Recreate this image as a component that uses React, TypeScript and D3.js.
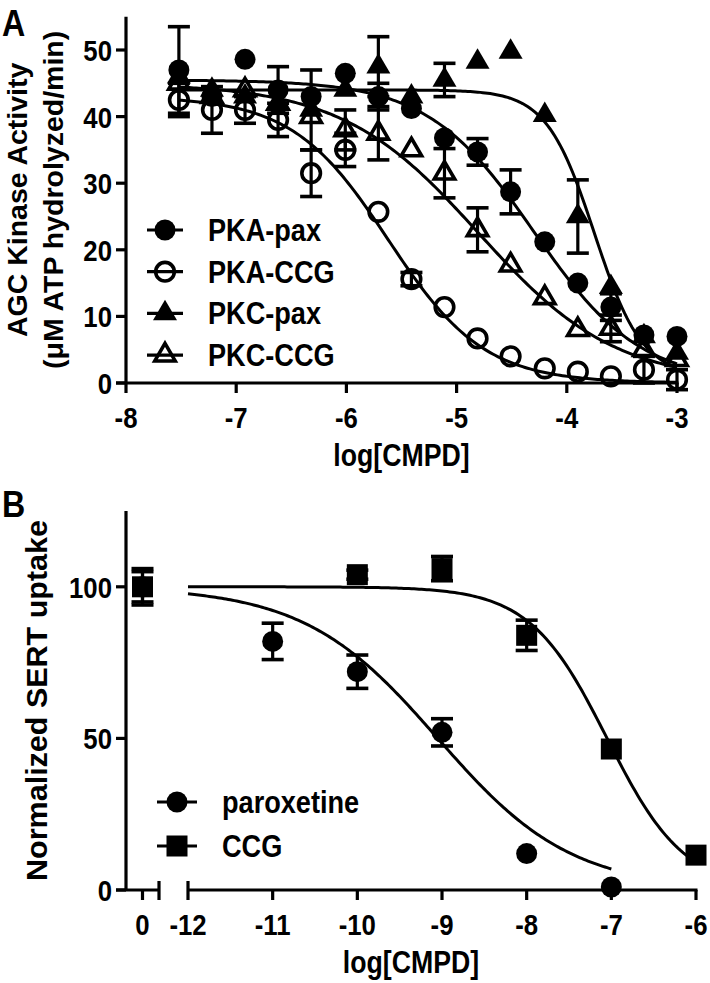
import React from 'react';
import * as d3 from 'd3';

const W = 710, H = 983;
const FONT = '"Liberation Sans", Arial, Helvetica, sans-serif';

// ---------- Panel A data ----------
const logConcA = [-7.52, -7.22, -6.92, -6.62, -6.32, -6.01, -5.71, -5.41, -5.11, -4.81, -4.51, -4.2, -3.9, -3.6, -3.3, -3.0];
const pkaPax = [47, 43, 48.6, 44, 43, 46.5, 43, 41.2, 36.8, 34.7, 28.7, 21.2, 15, 11.4, 7.2, 7];
const pkaPaxErr = [6.5, 0, 0, 3.5, 0, 0, 2, 0, 0, 2, 3.3, 0, 0, 2, 0, 0];
const pkaCcg = [42.5, 41, 41, 39.5, 31.5, 35, 25.7, 15.6, 11.4, 6.7, 4, 2.2, 1.7, 1, 2, 0.5];
const pkaCcgErr = [2.5, 3.5, 2, 2.5, 3.5, 2.5, 0, 1, 0, 0, 0, 0, 0, 0, 2, 1.5];
const pkcPax = [46, 44, 43, 42, 41, 44, 47.5, 43, 45.5, 48.2, 49.7, 40.2, 25, 14.4, 7, 4.5];
const pkcPaxErr = [0, 0, 0, 0, 6, 0, 4.5, 0, 2.5, 0, 0, 0, 5.5, 0, 0, 0];
const pkcCcg = [45, 43, 44, 42, 40, 38, 37.5, 35, 31.5, 23, 17.7, 12.8, 8, 8.2, 5, 3.5];
const pkcCcgErr = [0, 0, 0, 0, 0, 3, 4, 0, 3.7, 3.3, 0, 0, 0, 2, 0, 0];
// fit parameters: [top, bottom, logIC50, hill slope]
const fitPkaPax = [45.5, 0, -4.3, 0.9];
const fitPkaCcg = [43, 0, -5.62, 1.0];
const fitPkcPax = [44, 1, -3.75, 2.0];
const fitPkcCcg = [45, 0, -4.8, 0.7];
const xTicksA = [-8, -7, -6, -5, -4, -3];
const yTicksA = [0, 10, 20, 30, 40, 50];
const legendA = ['PKA-pax', 'PKA-CCG', 'PKC-pax', 'PKC-CCG'];

// ---------- Panel B data ----------
const parLog = [-11, -10, -9, -8, -7];
const parVal = [82, 72, 52, 12, 1];
const parErr = [6, 5.5, 4.5, 0, 0];
const ccgLog = [-10, -9, -8, -7, -6];
const ccgVal = [104, 106, 84, 46.5, 11.5];
const ccgErr = [1.5, 4, 5, 0, 0];
const ctrlVal = [100, 100];
const ctrlErr = [5, 6];
const fitPar = [100, 0, -9.05, 0.55];
const fitCcg = [100, 0, -7.05, 0.95];
const xTicksB = [-12, -11, -10, -9, -8, -7, -6];
const yTicksB = [0, 50, 100];
const legendB = ['paroxetine', 'CCG'];

// ---------- scales ----------
const xA = d3.scaleLinear().domain([-8, -3]).range([126, 677]);
const yA = d3.scaleLinear().domain([0, 55]).range([383, 16.7]);
const xB = d3.scaleLinear().domain([-12, -6]).range([188, 696]);
const xB0 = d3.scaleLinear().domain([-1, 1]).range([126, 159]);
const yB = d3.scaleLinear().domain([0, 125]).range([890, 511]);

const hillFn = (p: number[], x: number) => p[1] + (p[0] - p[1]) / (1 + Math.pow(10, (x - p[2]) * p[3]));

function curvePath(p: number[], x0: number, x1: number, xs: any, ys: any) {
  const pts = d3.range(0, 201).map(i => x0 + (x1 - x0) * i / 200);
  const line = d3.line<number>().x(d => xs(d)).y(d => ys(hillFn(p, d))).curve(d3.curveLinear);
  return line(pts) || '';
}

type Shape = 'circle' | 'ocircle' | 'tri' | 'otri' | 'square';

function Marker({ shape, x, y }: { shape: Shape; x: number; y: number }) {
  if (shape === 'circle') return <circle cx={x} cy={y} r={10.5} fill="#000" />;
  if (shape === 'ocircle') return <circle cx={x} cy={y} r={9.3} fill="none" stroke="#000" strokeWidth={3.6} />;
  if (shape === 'square') return <rect x={x - 10.5} y={y - 10.5} width={21} height={21} fill="#000" />;
  const w = shape === 'tri' ? 12 : 10.2;
  const h = shape === 'tri' ? 20.5 : 17.5;
  const d = `M${x},${y - h * 2 / 3}L${x + w},${y + h / 3}L${x - w},${y + h / 3}Z`;
  if (shape === 'tri') return <path d={d} fill="#000" />;
  return <path d={d} fill="none" stroke="#000" strokeWidth={3.6} strokeLinejoin="miter" />;
}

function ErrBar({ x, y0, y1, cap = 11 }: { x: number; y0: number; y1: number; cap?: number }) {
  return (
    <g stroke="#000">
      <line x1={x} x2={x} y1={y0} y2={y1} strokeWidth={3.2} />
      <line x1={x - cap} x2={x + cap} y1={y0} y2={y0} strokeWidth={3.6} />
      <line x1={x - cap} x2={x + cap} y1={y1} y2={y1} strokeWidth={3.6} />
    </g>
  );
}

const seriesA = [
  { name: legendA[0], vals: pkaPax, err: pkaPaxErr, fit: fitPkaPax, shape: 'circle' as Shape },
  { name: legendA[1], vals: pkaCcg, err: pkaCcgErr, fit: fitPkaCcg, shape: 'ocircle' as Shape },
  { name: legendA[2], vals: pkcPax, err: pkcPaxErr, fit: fitPkcPax, shape: 'tri' as Shape },
  { name: legendA[3], vals: pkcCcg, err: pkcCcgErr, fit: fitPkcCcg, shape: 'otri' as Shape },
];

const seriesB = [
  { name: legendB[0], logs: parLog, vals: parVal, err: parErr, fit: fitPar, x1: -7, shape: 'circle' as Shape, ctrl: 0 },
  { name: legendB[1], logs: ccgLog, vals: ccgVal, err: ccgErr, fit: fitCcg, x1: -6, shape: 'square' as Shape, ctrl: 1 },
];

const txt = { fontFamily: FONT, fontWeight: 700, fill: '#000' } as const;

// slightly condensed, taller glyphs like the reference
function T({ x, y, anchor = 'start', size, children, rot = 0 }: any) {
  const tr = rot ? `translate(${x},${y}) rotate(${rot}) scale(1,0.97)` : `translate(${x},${y}) scale(0.92,1.08)`;
  return <text transform={tr} textAnchor={anchor} fontSize={size} {...txt}>{children}</text>;
}

export default function App() {
  const x0A = logConcA[0], x1A = logConcA[logConcA.length - 1];
  return (
    <div style={{ position: 'absolute', left: 0, top: 0 }}>
      <svg width={W} height={H} viewBox={`0 0 ${W} ${H}`} style={{ display: 'block', background: '#fff' }}>
        {/* ===== Panel A ===== */}
        <T x={2} y={36} size={35}>A</T>
        <g stroke="#000" strokeWidth={3.2} fill="none">
          <line x1={xA(-8)} x2={xA(-8)} y1={yA(55)} y2={yA(0)} />
          <line x1={xA(-8) - 10} x2={xA(-3) + 1.5} y1={yA(0)} y2={yA(0)} />
          {yTicksA.map(t => <line key={t} x1={xA(-8) - 10} x2={xA(-8)} y1={yA(t)} y2={yA(t)} />)}
          {xTicksA.map(t => <line key={t} x1={xA(t)} x2={xA(t)} y1={yA(0)} y2={yA(0) + 10} />)}
        </g>
        {yTicksA.map(t => (
          <T key={t} x={112} y={yA(t) + 11} anchor="end" size={28}>{t}</T>
        ))}
        {xTicksA.map(t => (
          <T key={t} x={xA(t)} y={428} anchor="middle" size={28}>{t}</T>
        ))}
        <T x={(xA(-8) + xA(-3)) / 2} y={466} anchor="middle" size={29}>log[CMPD]</T>
        <T x={27} y={(yA(0) + yA(55)) / 2} rot={-90} anchor="middle" size={28.5}>AGC Kinase Activity</T>
        <T x={63} y={(yA(0) + yA(55)) / 2} rot={-90} anchor="middle" size={28.5}>(μM ATP hydrolyzed/min)</T>

        <g fill="none" stroke="#000" strokeWidth={3}>
          {seriesA.map(s => <path key={s.name} d={curvePath(s.fit, x0A, x1A, xA, yA)} />)}
        </g>
        {seriesA.map(s => logConcA.map((lx, i) => s.err[i] > 0 ? (
          <ErrBar key={s.name + i} x={xA(lx)} y0={yA(s.vals[i] + s.err[i])} y1={yA(s.vals[i] - s.err[i])} />
        ) : null))}
        {seriesA.map(s => logConcA.map((lx, i) => (
          <Marker key={s.name + 'm' + i} shape={s.shape} x={xA(lx)} y={yA(s.vals[i])} />
        )))}
        {seriesA.map((s, i) => {
          const ly = 230 + i * 41.7;
          return (
            <g key={s.name + 'lg'}>
              <line x1={147} x2={183} y1={ly} y2={ly} stroke="#000" strokeWidth={3.2} />
              <Marker shape={s.shape} x={165} y={ly} />
              <T x={208} y={ly + 11} size={29.5}>{s.name}</T>
            </g>
          );
        })}

        {/* ===== Panel B ===== */}
        <T x={2} y={517} size={35}>B</T>
        <g stroke="#000" strokeWidth={3.2} fill="none">
          <line x1={xB0(-1)} x2={xB0(-1)} y1={yB(125)} y2={yB(0)} />
          <line x1={xB0(-1) - 10} x2={xB0(1)} y1={yB(0)} y2={yB(0)} />
          <line x1={xB(-12)} x2={xB(-6) + 1.5} y1={yB(0)} y2={yB(0)} />
          {yTicksB.map(t => <line key={t} x1={xB0(-1) - 10} x2={xB0(-1)} y1={yB(t)} y2={yB(t)} />)}
          <line x1={xB0(0)} x2={xB0(0)} y1={yB(0)} y2={yB(0) + 10} />
          <line x1={xB0(1)} x2={xB0(1)} y1={yB(0) - 9} y2={yB(0) + 10} />
          <line x1={xB(-12)} x2={xB(-12)} y1={yB(0) - 9} y2={yB(0) + 10} />
          {xTicksB.slice(1).map(t => <line key={t} x1={xB(t)} x2={xB(t)} y1={yB(0)} y2={yB(0) + 10} />)}
        </g>
        {yTicksB.map(t => (
          <T key={t} x={112} y={yB(t) + 11} anchor="end" size={28}>{t}</T>
        ))}
        <T x={xB0(0)} y={935} anchor="middle" size={28}>0</T>
        {xTicksB.map(t => (
          <T key={t} x={xB(t)} y={935} anchor="middle" size={28}>{t}</T>
        ))}
        <T x={(xB0(-1) + xB(-6)) / 2} y={973} anchor="middle" size={29}>log[CMPD]</T>
        <T x={47} y={(yB(0) + yB(125)) / 2} rot={-90} anchor="middle" size={30.5}>Normalized SERT uptake</T>

        <g fill="none" stroke="#000" strokeWidth={3}>
          {seriesB.map(s => <path key={s.name} d={curvePath(s.fit, -12, s.x1, xB, yB)} />)}
        </g>
        {seriesB.map(s => (
          <g key={s.name + 'pts'}>
            <ErrBar x={xB0(0)} y0={yB(ctrlVal[s.ctrl] + ctrlErr[s.ctrl])} y1={yB(ctrlVal[s.ctrl] - ctrlErr[s.ctrl])} />
            <Marker shape={s.shape} x={xB0(0)} y={yB(ctrlVal[s.ctrl])} />
            {s.logs.map((lx, i) => s.err[i] > 0 ? (
              <ErrBar key={'e' + i} x={xB(lx)} y0={yB(s.vals[i] + s.err[i])} y1={yB(s.vals[i] - s.err[i])} />
            ) : null)}
            {s.logs.map((lx, i) => <Marker key={'m' + i} shape={s.shape} x={xB(lx)} y={yB(s.vals[i])} />)}
          </g>
        ))}
        {seriesB.map((s, i) => {
          const ly = 802 + i * 44;
          return (
            <g key={s.name + 'lg'}>
              <line x1={157} x2={197} y1={ly} y2={ly} stroke="#000" strokeWidth={3.2} />
              <Marker shape={s.shape} x={177} y={ly} />
              <T x={222} y={ly + 11} size={29.5}>{s.name}</T>
            </g>
          );
        })}
      </svg>
    </div>
  );
}
